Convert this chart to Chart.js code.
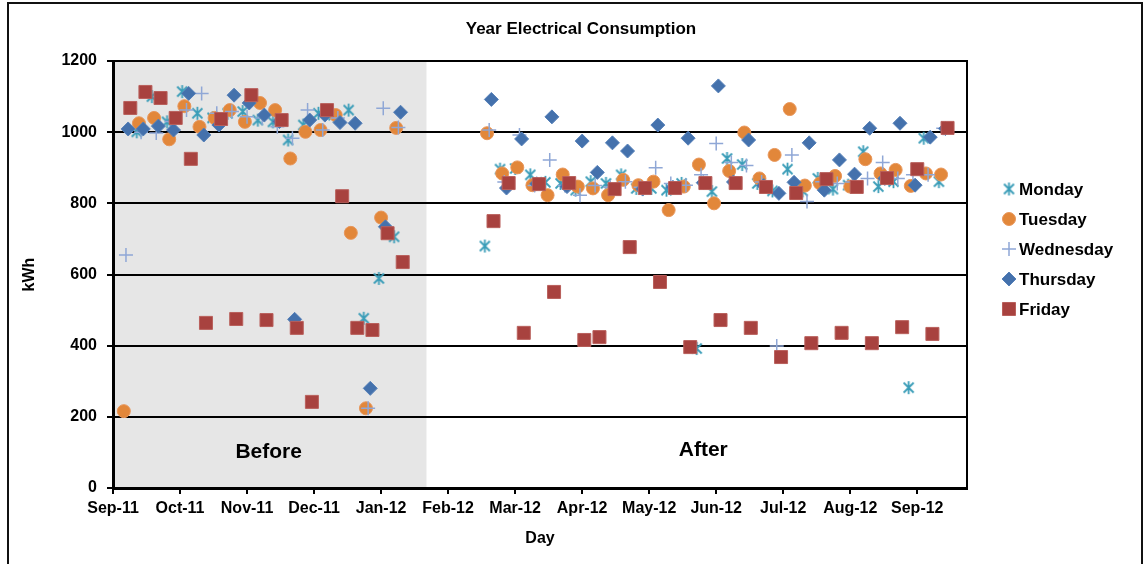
<!DOCTYPE html>
<html>
<head>
<meta charset="utf-8">
<title>Year Electrical Consumption</title>
<script src="https://cdn.jsdelivr.net/npm/chart.js@4.4.1/dist/chart.umd.min.js"></script>
<style>
  html, body { margin: 0; padding: 0; background: #fff; }
  #wrap { position: relative; width: 1147px; height: 564px; overflow: hidden; }
  #chart { position: absolute; left: 0; top: 0; }
  #frame {
    position: absolute; left: 7px; top: 2px; width: 1136px; height: 640px;
    border: 2px solid #111; box-sizing: border-box; pointer-events: none;
  }
</style>
</head>
<body>
<div id="wrap">
  <canvas id="chart" width="1147" height="564"></canvas>
  <div id="frame"></div>
</div>
<script>
(function () {
  'use strict';

  // week numbers counted from the week of Mon 5 Sep 2011 (no data weeks 19-23)
  var weeks = [0, 1, 2, 3, 4, 5, 6, 7, 8, 9, 10, 11, 12, 13, 14, 15, 16, 17, 18,
    24, 25, 26, 27, 28, 29, 30, 31, 32, 33, 34, 35, 36, 37, 38, 39, 40, 41, 42, 43,
    44, 45, 46, 47, 48, 49, 50, 51, 52, 53, 54];

  var monday = [null, 1001, 1100, 1029, 1114, 1053, 1040, 1053, 1058, 1034, 1029, 978, 1020, 1053, 1048, 1062, 477, 589, 706,
    680, 896, 898, 880, 859, 856, 837, 861, 856, 880, 842, 842, 837, 856, 392, 833, 926, 909, 856, 835,
    896, 835, 870, 840, 851, 945, 847, 861, 282, 983, 861];
  var tuesday = [216, 1025, 1040, 980, 1073, 1015, 1040, 1062, 1029, 1082, 1062, 926, 1001, 1006, 1048, 717, 224, 760, 1012,
    997, 884, 901, 851, 823, 881, 847, 842, 823, 866, 851, 861, 781, 847, 909, 800, 891, 999, 870, 936,
    1065, 850, 856, 877, 847, 924, 884, 894, 849, 884, 881];
  var wednesday = [655, 1000, 998, 1030, 1062, 1109, 1053, 1058, 1043, 1040, 1015, 983, 1062, 1006, 1040, null, 224, 1067, 1013,
    1006, 860, 992, 850, 922, 850, 823, 850, 845, 861, 845, 900, 856, 851, 880, 968, 915, 906, 860, 399,
    936, 805, 861, 856, 860, 870, 915, 870, 880, 880, 1011];
  var thursday = [1009, 1009, 1017, 1006, 1109, 992, 1020, 1104, 1082, 1048, 1030, 474, 1034, 1048, 1027, 1025, 280, 734, 1056,
    1092, 843, 981, 855, 1043, 847, 975, 887, 970, 947, 840, 1020, 845, 983, 858, 1130, 860, 978, 850, 828,
    859, 970, 837, 922, 882, 1011, 870, 1025, 851, 986, 1010];
  var friday = [1068, 1113, 1096, 1040, 925, 464, 1037, 475, 1104, 472, 1034, 450, 242, 1062, 820, 450, 444, 716, 635,
    750, 857, 436, 854, 551, 857, 416, 424, 840, 677, 843, 579, 843, 396, 857, 472, 857, 450, 846, 368,
    829, 407, 868, 436, 846, 407, 871, 452, 896, 433, 1012];

  var monthLabels = ['Sep-11', 'Oct-11', 'Nov-11', 'Dec-11', 'Jan-12', 'Feb-12', 'Mar-12',
    'Apr-12', 'May-12', 'Jun-12', 'Jul-12', 'Aug-12', 'Sep-12'];
  var yTicks = [0, 200, 400, 600, 800, 1000, 1200];

  var FIRST_MONDAY = 4;     // days after 1 Sep 2011
  var AXIS_END = 395;       // 30 Sep 2012
  var TICK_DAYS = 31;
  var BEFORE_END = 145;     // end of the shaded "Before" period

  var FONT = '"Liberation Sans", Arial, sans-serif';
  Chart.defaults.font.family = FONT;
  Chart.defaults.font.weight = 'bold';
  Chart.defaults.color = '#000';

  function asteriskImage(color) {
    var c = document.createElement('canvas');
    c.width = 15; c.height = 15;
    var g = c.getContext('2d');
    g.strokeStyle = color;
    g.lineWidth = 1.8;
    g.beginPath();
    g.moveTo(7.5, 1); g.lineTo(7.5, 14);
    g.moveTo(2.5, 2.5); g.lineTo(12.5, 12.5);
    g.moveTo(12.5, 2.5); g.lineTo(2.5, 12.5);
    g.stroke();
    return c;
  }

  function toPoints(values, dayIdx) {
    var pts = [];
    for (var i = 0; i < weeks.length; i++) {
      if (values[i] == null) continue;
      pts.push({ x: FIRST_MONDAY + 7 * weeks[i] + dayIdx, y: values[i] });
    }
    return pts;
  }

  var series = [
    { label: 'Monday', values: monday, style: asteriskImage('#3A9DB8'), radius: 7, fill: '#3A9DB8', border: '#3A9DB8', bw: 1.8, order: 5 },
    { label: 'Tuesday', values: tuesday, style: 'circle', radius: 6.5, fill: '#E2873A', border: '#E8965A', bw: 1, order: 4 },
    { label: 'Wednesday', values: wednesday, style: 'cross', radius: 7, fill: '#8FA7D6', border: '#8FA7D6', bw: 1.5, order: 3 },
    { label: 'Thursday', values: thursday, style: 'rectRot', radius: 7, fill: '#4471AC', border: '#5580B8', bw: 1, order: 2 },
    { label: 'Friday', values: friday, style: 'rect', radius: 9.2, fill: '#A8423F', border: '#B9605C', bw: 1, order: 1 }
  ];

  var datasets = series.map(function (s, i) {
    return {
      label: s.label,
      data: toPoints(s.values, i),
      pointStyle: s.style,
      pointRadius: s.radius,
      backgroundColor: s.fill,
      borderColor: s.border,
      pointBorderWidth: s.bw,
      order: s.order
    };
  });

  var decorPlugin = {
    id: 'decor',
    beforeDraw: function (chart) {
      var ctx = chart.ctx, x = chart.scales.x, y = chart.scales.y;
      ctx.save();
      ctx.fillStyle = '#E6E6E6';
      var l = x.getPixelForValue(0), r = x.getPixelForValue(BEFORE_END);
      ctx.fillRect(l, y.getPixelForValue(1200), r - l, y.getPixelForValue(0) - y.getPixelForValue(1200));
      ctx.restore();
    },
    afterDraw: function (chart) {
      var ctx = chart.ctx, x = chart.scales.x, y = chart.scales.y, a = chart.chartArea;
      ctx.save();
      // right edge of plot
      ctx.strokeStyle = '#000';
      ctx.lineWidth = 2;
      ctx.beginPath();
      ctx.moveTo(a.right, a.top - 1);
      ctx.lineTo(a.right, a.bottom);
      ctx.stroke();

      ctx.fillStyle = '#000';
      ctx.textAlign = 'center';
      ctx.textBaseline = 'middle';
      ctx.font = 'bold 17px ' + FONT;
      ctx.fillText('Year Electrical Consumption', 581, 29);

      ctx.font = 'bold 21px ' + FONT;
      ctx.fillText('Before', x.getPixelForValue(72), y.getPixelForValue(100));
      ctx.fillText('After', x.getPixelForValue(273), y.getPixelForValue(106));

      // legend
      ctx.font = 'bold 17px ' + FONT;
      ctx.textAlign = 'left';
      var helpers = Chart.helpers;
      series.forEach(function (s, i) {
        var ly = 189 + i * 30, lx = 1009;
        ctx.fillStyle = s.fill;
        ctx.strokeStyle = s.border;
        ctx.lineWidth = s.bw;
        if (helpers && helpers.drawPoint) {
          helpers.drawPoint(ctx, { pointStyle: s.style, radius: s.radius, rotation: 0, borderWidth: s.bw }, lx, ly);
        }
        ctx.fillStyle = '#000';
        ctx.fillText(s.label, 1019, ly + 1);
      });
      ctx.restore();
    }
  };

  new Chart(document.getElementById('chart'), {
    type: 'scatter',
    data: { datasets: datasets },
    plugins: [decorPlugin],
    options: {
      responsive: false,
      animation: false,
      events: [],
      layout: { padding: { left: 13, right: 180, top: 61, bottom: 16 } },
      plugins: { legend: { display: false }, tooltip: { enabled: false }, title: { display: false } },
      scales: {
        x: {
          type: 'linear',
          min: 0,
          max: AXIS_END,
          afterFit: function (s) { s.height = 60; },
          ticks: {
            stepSize: TICK_DAYS,
            includeBounds: false,
            autoSkip: false,
            maxRotation: 0,
            padding: 5,
            font: { size: 16, weight: 'bold' },
            color: '#000',
            callback: function (v) {
              var k = Math.round(v / TICK_DAYS);
              return monthLabels[k] || '';
            }
          },
          grid: { drawOnChartArea: false, drawTicks: true, tickLength: 6, color: '#000', lineWidth: 2 },
          border: { color: '#000', width: 3 },
          title: { display: true, text: 'Day', font: { size: 16, weight: 'bold' }, color: '#000', padding: { top: 0, bottom: 0 } }
        },
        y: {
          min: yTicks[0],
          max: yTicks[yTicks.length - 1],
          afterFit: function (s) { s.width = 100; },
          ticks: {
            stepSize: 200, padding: 10, font: { size: 16, weight: 'bold' }, color: '#000',
            callback: function (v) { return String(v); }
          },
          grid: { color: '#000', lineWidth: 2, tickLength: 6 },
          border: { color: '#000', width: 3 },
          title: { display: true, text: 'kWh', font: { size: 16, weight: 'bold' }, color: '#000', padding: { top: 7, bottom: 0 } }
        }
      }
    }
  });
})();
</script>
</body>
</html>
